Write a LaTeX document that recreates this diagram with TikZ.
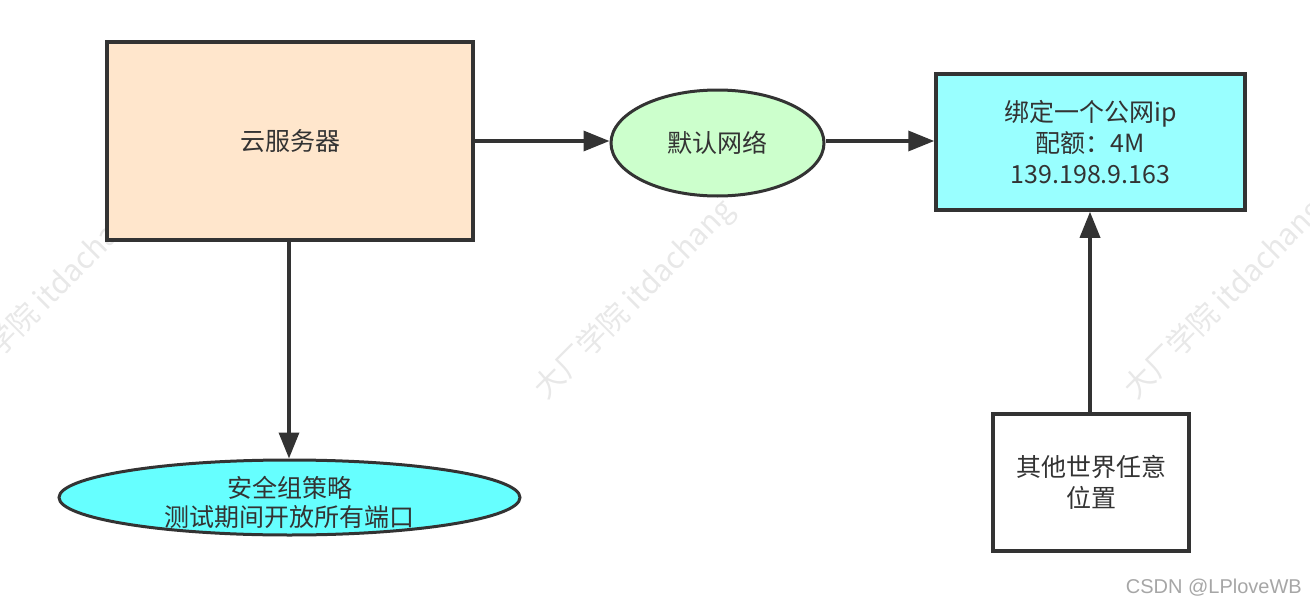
\documentclass[tikz,border=0pt]{standalone}
\usepackage{fontspec}
\setmainfont{Noto Sans CJK SC}
\newfontfamily\csdnfont{Liberation Sans}
\usetikzlibrary{shapes.geometric,arrows.meta}
\definecolor{ink}{HTML}{333333}
\definecolor{peach}{HTML}{FFE6CC}
\definecolor{mint}{HTML}{CCFFCC}
\definecolor{lcyan}{HTML}{99FFFF}
\definecolor{cyanfill}{HTML}{66FFFF}
\definecolor{wm}{HTML}{E8E8E8}
\tikzset{
  box/.style={draw=ink, line width=3.5pt, rectangle, inner sep=0pt, text=ink, align=center, font=\fontsize{25}{31}\selectfont},
  oval/.style={draw=ink, line width=3pt, ellipse, inner sep=0pt, text=ink, align=center, font=\fontsize{25}{31}\selectfont},
  txt/.style={text=ink, align=center, font=\fontsize{25}{29}\selectfont, inner sep=0pt},
  conn/.style={draw=ink, line width=3.5pt, -{Triangle[length=26pt,width=20pt]}},
  wmark/.style={text=wm, rotate=45, font=\fontsize{30}{30}\selectfont, inner sep=0pt}
}
\begin{document}
\begin{tikzpicture}[x=1pt,y=-1pt]
\useasboundingbox (0,0) rectangle (1310,613);
\begin{scope}
\clip (0,0) rectangle (1310,613);
\node[wmark] (w1) at (45,300) {大厂学院 itdachang};
\node[wmark] (w2) at (635,300) {大厂学院 itdachang};
\node[wmark] (w3) at (1225,300) {大厂学院 itdachang};
\end{scope}
\node[box, fill=peach, minimum width=366pt, minimum height=198pt] (srv) at (290,141) {云服务器};
\node[oval, fill=mint, minimum width=213pt, minimum height=106pt] (net) at (717.5,143) {默认网络};
\node[box, fill=lcyan, minimum width=309pt, minimum height=136pt] (ip) at (1090.5,142) {绑定一个公网ip\\配额：4M\\139.198.9.163};
\node[oval, fill=cyanfill, minimum width=461pt, minimum height=75pt] (sg) at (289.5,497.5) {};
\node[txt] (sgt) at (289.5,502) {安全组策略\\测试期间开放所有端口};
\node[box, fill=white, minimum width=196pt, minimum height=137pt] (world) at (1091,482.5) {其他世界任意\\位置};
\draw[conn] (srv.east |- 0,141) -- (net.west |- 0,141);
\draw[conn] (net.east |- 0,141) -- (ip.west |- 0,141);
\draw[conn] (srv.south -| 289,0) -- (sg.north -| 289,0);
\draw[conn] (world.north -| 1090,0) -- (ip.south -| 1090,0);
\node[text=black!35, font=\csdnfont\fontsize{20}{20}\selectfont, anchor=east, inner sep=0pt] (csdn) at (1302,588) {CSDN @LPloveWB};
\end{tikzpicture}
\end{document}
